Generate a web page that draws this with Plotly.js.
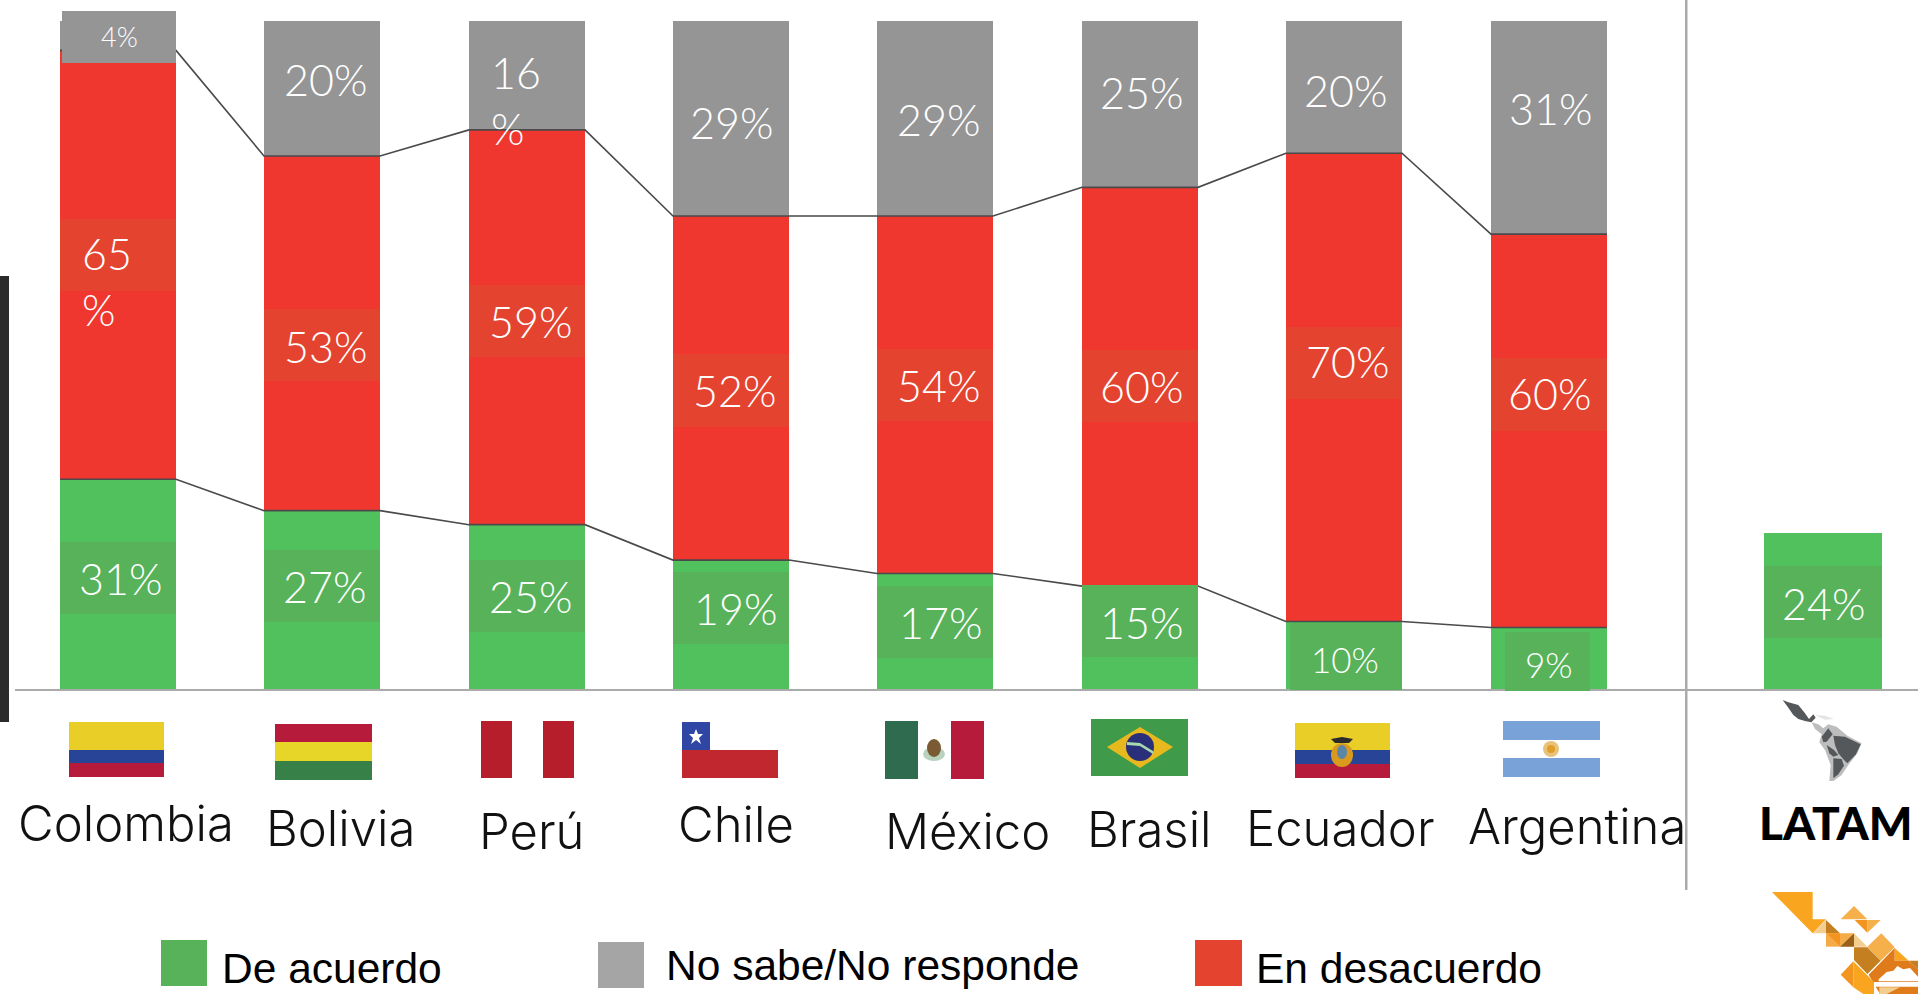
<!DOCTYPE html>
<html><head><meta charset="utf-8">
<script src="https://cdn.plot.ly/plotly-3.0.1.min.js"></script>
<style>html,body{margin:0;padding:0;background:#fff;overflow:hidden}#chart{width:1918px;height:994px}</style>
</head><body><div id="chart"></div>
<script>
// ---- data ----
const countries = ['Colombia','Bolivia','Perú','Chile','México','Brasil','Ecuador','Argentina','LATAM'];
// bar heights as measured
const deAcuerdo = [31.4,26.7,24.6,19.3,17.3,15.4,10.1,9.2,23.4];
const enDesacuerdo = [64.2,53.1,59.1,51.5,53.5,59.7,70.1,58.9,null];
const noSabe = [4.4,20.2,16.3,29.2,29.2,24.9,19.8,31.9,null];
// numbers as printed on the bars
const deAcuerdoText = [31,27,25,19,17,15,10,9,24];
const enDesacuerdoText = [65,53,59,52,54,60,70,60];
const noSabeText = [4,20,16,29,29,25,20,31];

// ---- layout constants (pixels of the page) ----
const W=1918,H=994,L=15,BASE=689,UNIT=6.68;
const slotX=[118,322,527,731,935,1140,1344,1549,1823];
const barW=[116,116,116,116,116,116,116,116,118];
const X=p=>(p-L)/(W-L), Y=p=>(BASE-p)/BASE;
const COL={green:'#50C15C',red:'#EF3730',gray:'#959595',gbox:'#57B25A',rbox:'#E4432F',lgray:'#A5A5A5',line:'#4a4a4a'};

const shapes=[], annotations=[];
function rect(x0,y0,x1,y1,c){shapes.push({type:'rect',xref:'paper',yref:'paper',x0:X(x0),x1:X(x1),y0:Y(y1),y1:Y(y0),fillcolor:c,line:{width:0},layer:'above'});}
function poly(pts,c,ox=0,oy=0,s=1){
  const d='M'+pts.map(p=>X(ox+p[0]/s).toFixed(5)+','+Y(oy+p[1]/s).toFixed(5)).join('L')+'Z';
  shapes.push({type:'path',xref:'paper',yref:'paper',path:d,fillcolor:c,line:{width:0},layer:'above'});
}
function ell(cx,cy,rx,ry,c){shapes.push({type:'circle',xref:'paper',yref:'paper',x0:X(cx-rx),x1:X(cx+rx),y0:Y(cy+ry),y1:Y(cy-ry),fillcolor:c,line:{width:0},layer:'above'});}
function txt(t,x,y,size,color,o={}){annotations.push({text:t,xref:'paper',yref:'paper',x:X(x),y:Y(y),xanchor:o.xanchor||'center',yanchor:'middle',showarrow:false,
  font:{family:o.family||'Lato, sans-serif',size:size,color:color,weight:o.weight||300},align:o.align||'center'});}

// ---- value label boxes and texts (page pixels) ----
const greenBox=[[60,176,542,614],[264,380,550,622],[469,585,560,632],[673,789,572,644],[877,993,586,658],[1082,1198,585,657],[1290,1402,623,690],[1505,1590,632,691],[1764,1882,566,638]];
greenBox.forEach(b=>rect(b[0],b[2],b[1],b[3],COL.gbox));
const redBox=[[60,176,219,291],[264,380,309,381],[469,585,285,357],[673,789,354,427],[877,993,349,421],[1082,1198,350,422],[1286,1402,327,399],[1491,1607,358,431]];
redBox.forEach(b=>rect(b[0],b[2],b[1],b[3],COL.rbox));
rect(62,11,176,63,COL.gray);
rect(469,21,585,40,COL.gray);

const pct=v=>v+'%';
const greenTxt=[[120,578],[324,586],[530,596],[735,608],[940,622],[1141,622],[1345,659],[1549,664],[1823,603]];
greenTxt.forEach((p,i)=>txt(pct(deAcuerdoText[i]),p[0],p[1],i>=6&&i<8?35:43,'#fff'));
const redTxt=[[0,0],[325,346],[530,321],[734,390],[938,385],[1141,386],[1347,362],[1549,394]];
redTxt.forEach((p,i)=>{if(i)txt(pct(enDesacuerdoText[i]),p[0],p[1],43,'#fff');});
txt(enDesacuerdoText[0]+'<br>%',80,281,43,'#fff',{xanchor:'left',align:'left'});
const grayTxt=[[119,37],[325,79],[0,0],[731,122],[938,120],[1141,92],[1345,91],[1550,108]];
grayTxt.forEach((p,i)=>{if(i!==2)txt(pct(noSabeText[i]),p[0],p[1],i===0?27:43,'#fff');});
txt(noSabeText[2]+'<br>%',489,101,43,'#fff',{xanchor:'left',align:'left'});

// ---- country labels ----
const labelPos=[[126,823],[340,828],[531,831],[736,824],[967,831],[1149,829],[1340,828],[1577,826]];
labelPos.forEach((p,i)=>txt(countries[i],p[0],p[1],49,'#111',{family:'Inter, sans-serif'}));
txt(countries[8],1836,822,46,'#000',{weight:900});

// ---- flags ----
rect(69,722,164,750,'#EACE28');rect(69,750,164,763,'#274496');rect(69,763,164,777,'#B71B3C');
rect(275,724,372,742,'#B71B3C');rect(275,742,372,761,'#E7D627');rect(275,761,372,780,'#378047');
rect(481,721,512,778,'#B71E2B');rect(543,721,574,778,'#B71E2B');
rect(682,722,710,750,'#2F46A5');rect(682,750,778,778,'#C0272F');
poly([[696,729],[698,734],[703,734],[699,738],[701,744],[696,740],[691,744],[693,738],[689,734],[694,734]],'#fff');
rect(885,721,918,779,'#2F6B4E');rect(951,721,984,779,'#B71B3C');
ell(934,754,11,7,'#B9D2BE');ell(934,748,7,9,'#7A5A32');
rect(1091,719,1188,776,'#3F9A4A');
poly([[1107,747],[1140,727],[1173,747],[1140,768]],'#E8B91F');
ell(1140,747,14,14,'#2A2F7A');
poly([[1127,742],[1140,743],[1153,751],[1153,754],[1140,746],[1127,745]],'#A8D8B0');
rect(1295,723,1390,750,'#EACE28');rect(1295,750,1390,764,'#274496');rect(1295,764,1390,778,'#B71B3C');
poly([[1331,739],[1342,737],[1353,739],[1349,743],[1335,743]],'#2b2b2b');
ell(1342,755,11,12,'#D99A1E');ell(1342,752,5,7,'#5B86A8');
rect(1503,721,1600,740,'#79A2D8');rect(1503,758,1600,777,'#79A2D8');
ell(1551,749,8,8,'#E8C27A');ell(1551,749,4,4,'#E09E2A');

// ---- separators ----
rect(0,276,9,722,'#2b2b2b');
rect(1685,0,1687.5,890,'#ABABAB');

// ---- LATAM map (zoom coordinates, 3x) ----
const mo=[1770,695,3];
poly([[125,82],[145,88],[160,100],[175,88],[200,95],[232,122],[275,145],[262,175],[235,210],[215,240],[190,258],[178,258],[182,210],[165,165],[148,142],[155,118],[135,102]],'#BDBDBD',...mo);
poly([[135,60],[165,62],[192,72],[165,74]],'#E4E4E4',...mo);
poly([[38,15],[55,22],[85,30],[105,55],[117,72],[130,58],[137,68],[124,82],[105,78],[85,72],[70,60],[55,38]],'#55585A',...mo);
poly([[155,125],[175,100],[188,118],[170,140],[160,142]],'#55585A',...mo);
poly([[190,122],[225,125],[272,148],[258,178],[232,205],[222,195],[205,175],[195,150]],'#55585A',...mo);
poly([[170,150],[192,165],[205,180],[190,185],[178,175]],'#55585A',...mo);
poly([[190,190],[215,192],[222,212],[205,238],[190,250]],'#55585A',...mo);

// ---- logo (zoom coordinates, 3x) ----
const lo=[1760,880,3];
[
 [[36,36],[158,36],[158,118],[198,118],[158,160]],'#F9A51F',
 [[158,160],[198,120],[198,160]],'#F3CE8F',
 [[198,120],[240,160],[198,160]],'#C47F20',
 [[198,160],[240,160],[240,200],[198,200]],'#F5AB47',
 [[200,160],[240,160],[240,198]],'#F39420',
 [[240,160],[282,160],[240,200]],'#F5AB47',
 [[282,160],[282,200],[240,200]],'#9A6019',
 [[282,160],[322,200],[282,200]],'#F3CE8F',
 [[282,78],[322,118],[242,118]],'#F5AF4B',
 [[284,120],[322,120],[322,158]],'#F39420',
 [[322,120],[362,120],[322,158]],'#F5AF4B',
 [[322,200],[364,160],[404,202],[362,242]],'#F5AF4B',
 [[282,202],[322,202],[362,242],[322,282],[282,240]],'#C47F20',
 [[404,204],[446,242],[404,242]],'#F9A51F',
 [[326,284],[404,204],[404,242],[446,242],[474,268],[474,342],[360,342]],'#E07B1C',
 [[446,242],[474,242],[474,268]],'#C47F20',
 [[242,284],[280,244],[280,322]],'#F39420',
 [[280,244],[342,306],[342,342],[310,342],[280,322]],'#F9A51F',
 [[356,298],[380,276],[400,272],[412,258],[430,268],[450,264],[474,290],[474,304],[356,304]],'#fff',
 [[342,306],[474,306],[474,320],[342,320]],'#fff',
 [[358,322],[420,322],[380,342],[358,342]],'#F3CE8F'
].forEach((v,i,a)=>{if(i%2===0)poly(v,a[i+1],...lo);});

// ---- legend ----
const legendNames=['De acuerdo','No sabe/No responde','En desacuerdo'];
rect(161,940,207,986,COL.gbox);rect(598,942,644,988,COL.lgray);rect(1195,940,1242,986,COL.rbox);
const legendAt=[[220,968],[664,965],[1254,968]];
legendNames.forEach((n,i)=>txt(n,legendAt[i][0],legendAt[i][1],42.5,'#000',{family:'Liberation Sans, Arial, sans-serif',weight:400,xanchor:'left'}));

// ---- traces ----
const bar=(name,y,color)=>({type:'bar',name,x:slotX,y,width:barW,marker:{color,line:{width:0}},hoverinfo:'name+y',showlegend:false});
const lineX=[],lineLow=[],lineHigh=[];
for(let i=0;i<8;i++){
  lineX.push(slotX[i]-barW[i]/2,slotX[i]+barW[i]/2);
  lineLow.push(deAcuerdo[i],deAcuerdo[i]);
  lineHigh.push(deAcuerdo[i]+enDesacuerdo[i],deAcuerdo[i]+enDesacuerdo[i]);
}
const link=y=>({type:'scatter',mode:'lines',x:lineX,y,line:{color:COL.line,width:1.6},hoverinfo:'skip',showlegend:false});
const data=[bar('De acuerdo',deAcuerdo,COL.green),bar('En desacuerdo',enDesacuerdo,COL.red),bar('No sabe/No responde',noSabe,COL.gray),link(lineLow),link(lineHigh)];

Plotly.newPlot('chart',data,{
  width:W,height:H,margin:{l:L,r:0,t:0,b:H-BASE,pad:0},barmode:'stack',showlegend:false,
  paper_bgcolor:'#fff',plot_bgcolor:'#fff',
  xaxis:{type:'linear',range:[L,W],showgrid:false,zeroline:false,showticklabels:false,ticks:'',showline:true,linecolor:'#ABABAB',linewidth:2},
  yaxis:{type:'linear',range:[0,BASE/UNIT],showgrid:false,zeroline:false,showticklabels:false,ticks:'',showline:false},
  shapes,annotations
},{displayModeBar:false});
</script></body></html>
